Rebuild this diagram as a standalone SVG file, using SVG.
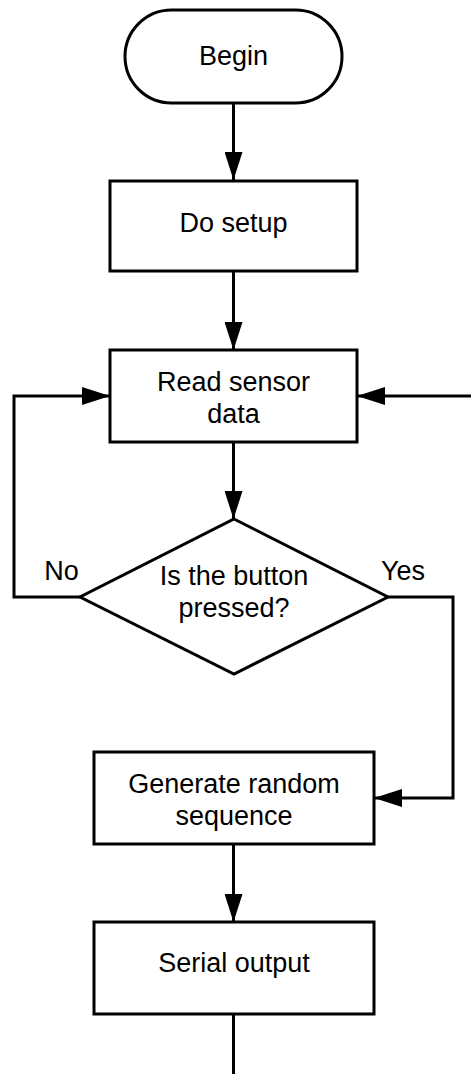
<svg xmlns="http://www.w3.org/2000/svg" width="471" height="1074" viewBox="0 0 471 1074">
<style>
.n{fill:#fff;stroke:#000;stroke-width:3}
.t{font-family:"Liberation Sans",Arial,sans-serif;font-size:27px;fill:#000;text-anchor:middle}
.c{fill:none;stroke:#000;stroke-width:3}
</style>
<defs>
<marker id="ah" markerUnits="userSpaceOnUse" markerWidth="28" markerHeight="18" refX="28" refY="9" orient="auto" viewBox="0 0 28 18">
<path d="M0,0 L28,9 L0,18 Z" fill="#000"/>
</marker>
</defs>
<rect width="471" height="1074" fill="#fff"/>
<g id="connectors">
<path class="c" d="M233.5,103 V180" marker-end="url(#ah)"/>
<path class="c" d="M233.5,271 V350" marker-end="url(#ah)"/>
<path class="c" d="M233.5,442 V519" marker-end="url(#ah)"/>
<path class="c" d="M80,597 H14 V396 H110" marker-end="url(#ah)"/>
<path class="c" d="M471,396 H357" marker-end="url(#ah)"/>
<path class="c" d="M388,597 H453 V798 H374" marker-end="url(#ah)"/>
<path class="c" d="M233.5,844 V922" marker-end="url(#ah)"/>
<path class="c" d="M233.5,1014 V1074"/>
<text class="t" x="61.5" y="580">No</text>
<text class="t" x="403" y="580">Yes</text>
</g>
<g id="begin">
<rect class="n" x="125" y="10" width="217" height="93" rx="46.5"/>
<text class="t" x="233.5" y="65">Begin</text>
</g>
<g id="setup">
<rect class="n" x="110" y="181" width="247" height="90"/>
<text class="t" x="233.5" y="232">Do setup</text>
</g>
<g id="read">
<rect class="n" x="110" y="350" width="247" height="92"/>
<text class="t" x="233.5" y="391">Read sensor</text>
<text class="t" x="233.5" y="423">data</text>
</g>
<g id="decision">
<polygon class="n" points="234,519 388,597 234,674 80,597"/>
<text class="t" x="234" y="585">Is the button</text>
<text class="t" x="234" y="617">pressed?</text>
</g>
<g id="generate">
<rect class="n" x="94" y="752" width="280" height="92"/>
<text class="t" x="234" y="793">Generate random</text>
<text class="t" x="234" y="825">sequence</text>
</g>
<g id="serial">
<rect class="n" x="94" y="922" width="280" height="92"/>
<text class="t" x="234" y="972">Serial output</text>
</g>
</svg>
